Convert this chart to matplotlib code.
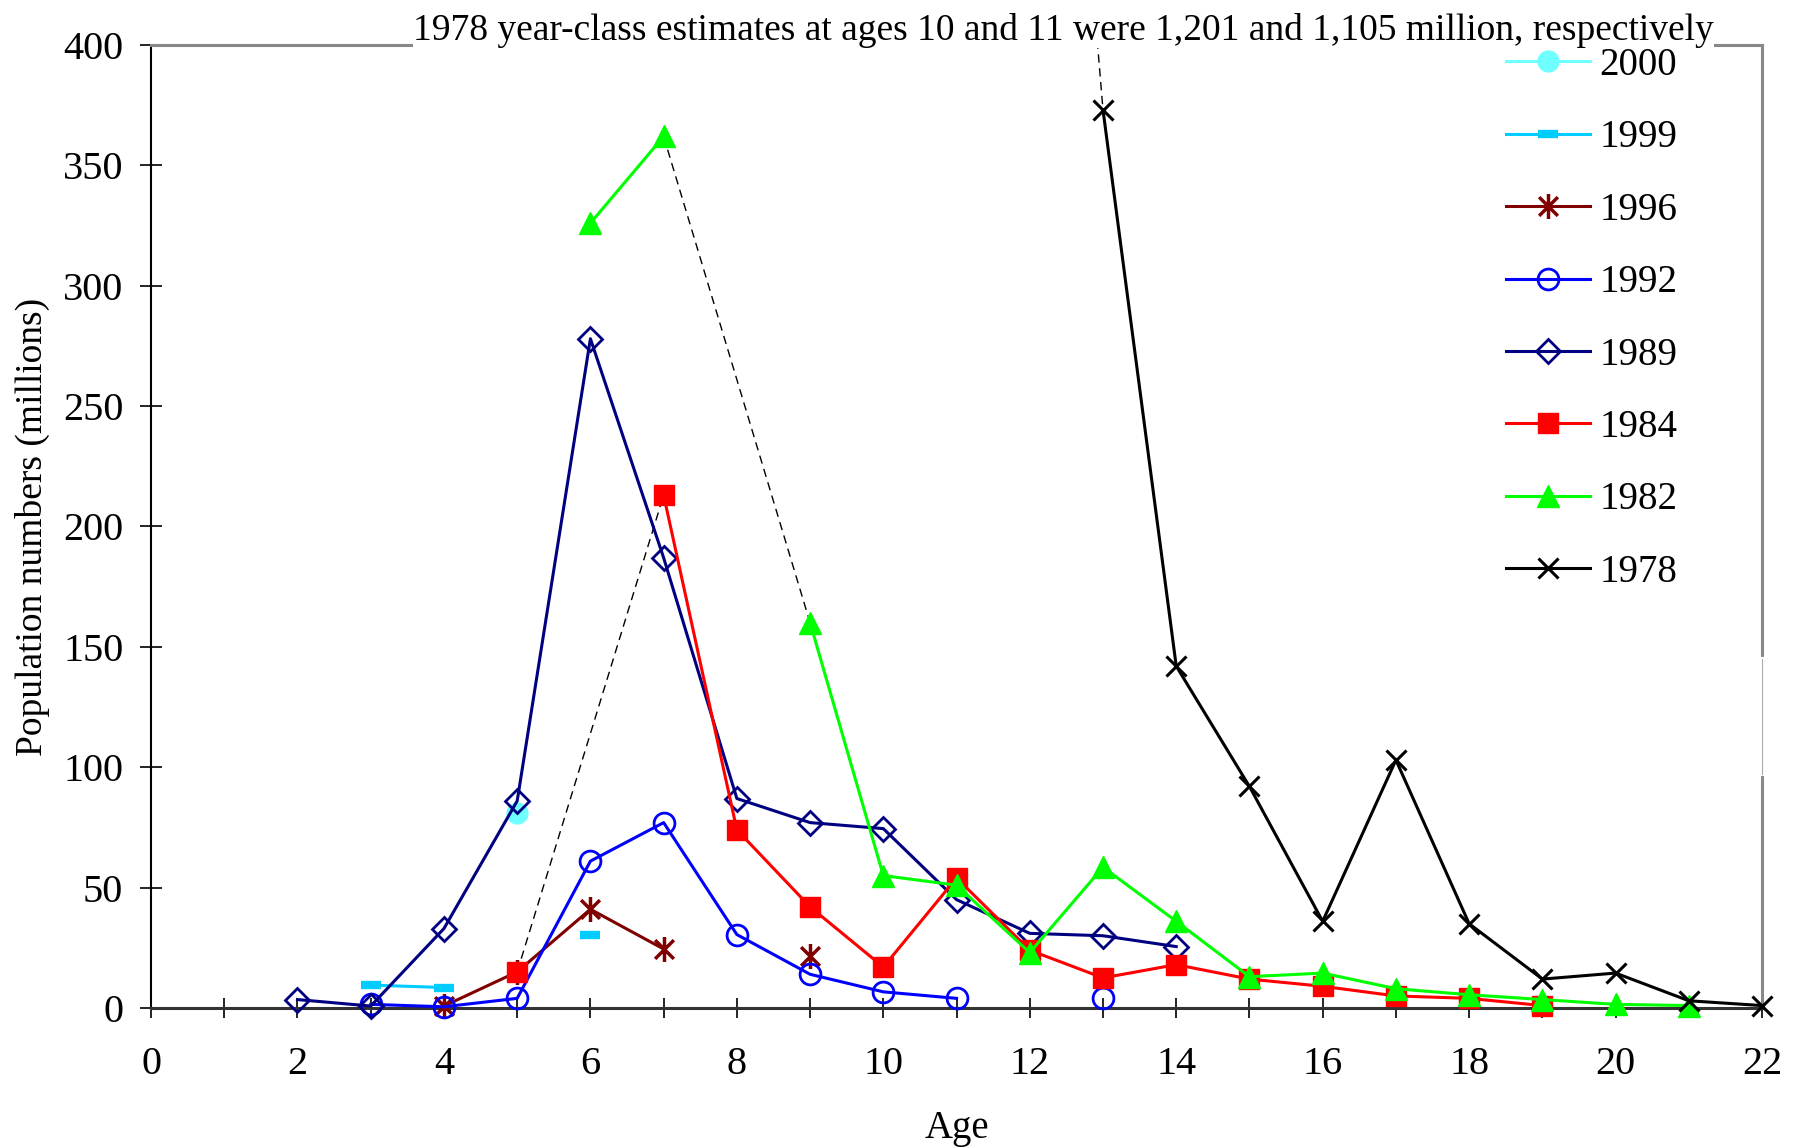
import matplotlib.pyplot as plt
import numpy as np
from matplotlib.path import Path
from matplotlib import font_manager

plt.rcParams['font.family'] = 'serif'
plt.rcParams['font.serif'] = ['Liberation Serif', 'Times New Roman', 'DejaVu Serif']
serif_file = font_manager.findfont(font_manager.FontProperties(family='Liberation Serif'))


def font(size):
    return font_manager.FontProperties(fname=serif_file, size=size)


nan = np.nan

# Population numbers (millions) of each year-class by age
ages_2000 = [5]
pop_2000 = [81]

ages_1999 = [3, 4, 5, 6]
pop_1999 = [9.5, 8.5, nan, 30.5]

ages_1996 = [4, 5, 6, 7, 8, 9]
pop_1996 = [0.8, 15, 41, 24.5, nan, 21.5]

ages_1992 = [3, 4, 5, 6, 7, 8, 9, 10, 11, 12, 13]
pop_1992 = [1.5, 0.5, 4, 61, 77, 30.5, 14, 6.7, 4, nan, 4.3]

ages_1989 = [2, 3, 4, 5, 6, 7, 8, 9, 10, 11, 12, 13, 14]
pop_1989 = [3.5, 0.8, 33, 86, 278, 187, 87, 77, 74.5, 45, 31, 30, 25.5]

ages_1984 = [5, 6, 7, 8, 9, 10, 11, 12, 13, 14, 15, 16, 17, 18, 19]
pop_1984 = [15, nan, 213, 74, 42, 17, 54, 24, 12.5, 18, 12, 9, 5, 4, 1]

ages_1982 = [6, 7, 8, 9, 10, 11, 12, 13, 14, 15, 16, 17, 18, 19, 20, 21]
pop_1982 = [326, 362, nan, 160, 55, 51, 23, 58.5, 36, 13, 14.5, 8, 5.5, 3.5, 1.5, 1]

ages_1978 = [10, 11, 12, 13, 14, 15, 16, 17, 18, 19, 20, 21, 22]
pop_1978 = [1201, 1105, nan, 373, 142, 92, 36, 103, 35, 12, 14.5, 3, 1]

x_max = 22
y_max = 400

star = Path([(0, -1), (0, 1), (-0.75, -0.75), (0.75, 0.75), (-0.75, 0.75), (0.75, -0.75)],
            [Path.MOVETO, Path.LINETO] * 3)

series = [
    ('2000', ages_2000, pop_2000, dict(color='#70FFFF', marker='o', ms=15)),
    ('1999', ages_1999, pop_1999, dict(color='#00CCFF', marker='_', ms=14, mew=6)),
    ('1996', ages_1996, pop_1996, dict(color='#800000', marker=star, ms=18, mew=2.5)),
    ('1992', ages_1992, pop_1992, dict(color='#0000FF', marker='o', ms=15, mfc='none', mew=2)),
    ('1989', ages_1989, pop_1989, dict(color='#000080', marker='D', ms=12, mfc='none', mew=2)),
    ('1984', ages_1984, pop_1984, dict(color='#FF0000', marker='s', ms=14)),
    ('1982', ages_1982, pop_1982, dict(color='#00FF00', marker='^', ms=16)),
    ('1978', ages_1978, pop_1978, dict(color='black', marker='x', ms=15, mew=2.2)),
]

# dashed links across missing ages: (ages, values, age_from, age_to)
bridges = [
    (ages_1984, pop_1984, 5, 7),
    (ages_1982, pop_1982, 7, 9),
    (ages_1978, pop_1978, 11, 13),
]

fig = plt.figure(figsize=(17.96, 11.47), dpi=100)
ax = fig.add_axes([0.0841, 0.1212, 0.8970, 0.8396])

for ages, vals, a, b in bridges:
    ax.plot([a, b], [vals[ages.index(a)], vals[ages.index(b)]], color='black',
            lw=1, ls=(0, (6, 4)), zorder=2)

for label, ages, vals, style in series:
    x = np.array(ages, dtype=float)
    y = np.array(vals, dtype=float)
    # points far above the axis are only reached by the dashed link
    keep = ~(y > y_max)
    ax.plot(x[keep], y[keep], label=label, lw=2.2, clip_on=False, zorder=3, **style)

ax.set_xlim(0, x_max)
ax.set_ylim(0, y_max)
ax.set_xticks(np.arange(0, x_max + 1, 2))
ax.set_xticks(np.arange(0, x_max + 1, 1), minor=True)
ax.set_yticks(np.arange(0, y_max + 1, 50))

ax.tick_params(axis='x', which='both', direction='inout', length=15, width=1.2, pad=20)
ax.tick_params(axis='y', direction='inout', length=16, width=1.2, pad=12)
for lab in ax.get_xticklabels() + ax.get_yticklabels():
    lab.set_fontproperties(font(29))

for side in ['top', 'right']:
    ax.spines[side].set_color('#888888')
    ax.spines[side].set_linewidth(2.2)
ax.spines['left'].set_linewidth(1.5)
ax.spines['bottom'].set_linewidth(2.2)
ax.spines['bottom'].set_color('#333333')

# short break in the right border
ax.plot([x_max, x_max], [97, 145], color='white', lw=3, clip_on=False, zorder=2.6)
ax.plot([x_max, x_max], [97, 145], color='#aaaaaa', lw=0.8, clip_on=False, zorder=2.7)

ax.set_xlabel('Age', fontproperties=font(28), labelpad=19)
ax.set_ylabel('Population numbers (millions)', fontproperties=font(27), labelpad=9)

fig.text(0.592, 0.9655, '1978 year-class estimates at ages 10 and 11 were 1,201 and 1,105 million, respectively',
         fontproperties=font(27), ha='center', va='baseline',
         bbox=dict(facecolor='white', edgecolor='none', pad=0))

ax.legend(loc='upper left', bbox_to_anchor=(0.8315, 1.014), frameon=False, prop=font(28),
          handlelength=2.15, handletextpad=0.25, labelspacing=0.91, borderaxespad=0)

fig.savefig('out.png', dpi=100)
